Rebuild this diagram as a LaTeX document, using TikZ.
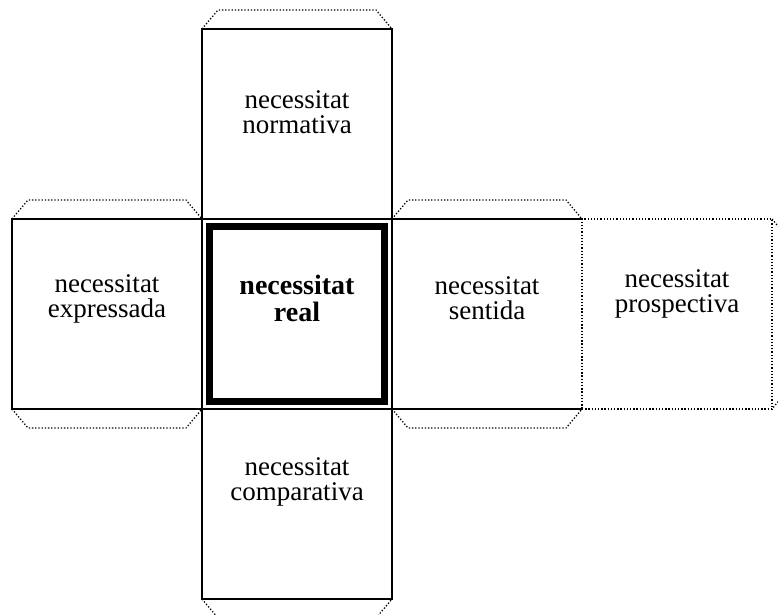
\documentclass[tikz,border=0pt]{standalone}
\usepackage{fontspec}
\setmainfont{Liberation Serif}
\usetikzlibrary{positioning}

\begin{document}
\begin{tikzpicture}[x=1pt, y=1pt, node distance=0pt,
	face/.style={draw, line width=1.3pt, minimum size=190pt, inner sep=0pt, outer sep=0pt},
	flap/.style={line width=1.3pt, dash pattern=on 1.3pt off 1.9pt},
	txt/.style={align=center, font=\fontsize{27}{25}\selectfont}]
	\useasboundingbox (-297,314) rectangle (481,-300);
	
	\node[face] (real) {};
	\node[face, above=of real] (normativa) {};
	\node[face, below=of real] (comparativa) {};
	\node[face, left=of real] (expressada) {};
	\node[face, draw=none, right=of real] (sentida) {};
	\node[face, flap, right=of sentida] (prospectiva) {};
	\node[draw, line width=6.5pt, minimum size=175pt, inner sep=0pt] (realin) at (real) {};
	
	\draw[line width=1.3pt] (sentida.north east) -- (sentida.north west) (sentida.south west) -- (sentida.south east);
	
	% flaps
	\draw[flap] (normativa.north west) -- ++(16,19) -- ([shift={(-16,19)}]normativa.north east) -- (normativa.north east);
	\draw[flap] (expressada.north west) -- ++(16,19) -- ([shift={(-16,19)}]expressada.north east) -- (expressada.north east);
	\draw[flap] (expressada.south west) -- ++(16,-19) -- ([shift={(-16,-19)}]expressada.south east) -- (expressada.south east);
	\draw[flap] (sentida.north west) -- ++(16,19) -- ([shift={(-16,19)}]sentida.north east) -- (sentida.north east);
	\draw[flap] (sentida.south west) -- ++(16,-19) -- ([shift={(-16,-19)}]sentida.south east) -- (sentida.south east);
	\draw[flap] (comparativa.south west) -- ++(16,-19) -- ([shift={(-16,-19)}]comparativa.south east) -- (comparativa.south east);
	\draw[flap] (prospectiva.north east) -- ++(16,-19) -- ([shift={(16,19)}]prospectiva.south east) -- (prospectiva.south east);
	
	% texts
	\node[txt] (t-normativa) at ([yshift=12pt]normativa.center) {necessitat\\normativa};
	\node[txt] (t-expressada) at ([yshift=15pt]expressada.center) {necessitat\\expressada};
	\node[txt, font=\bfseries\fontsize{28}{27}\selectfont] (t-real) at ([yshift=16pt]real.center) {necessitat\\real};
	\node[txt] (t-sentida) at ([yshift=16pt]sentida.center) {necessitat\\sentida};
	\node[txt] (t-prospectiva) at ([yshift=20pt]prospectiva.center) {necessitat\\prospectiva};
	\node[txt] (t-comparativa) at ([yshift=22pt]comparativa.center) {necessitat\\comparativa};
\end{tikzpicture}
\end{document}
